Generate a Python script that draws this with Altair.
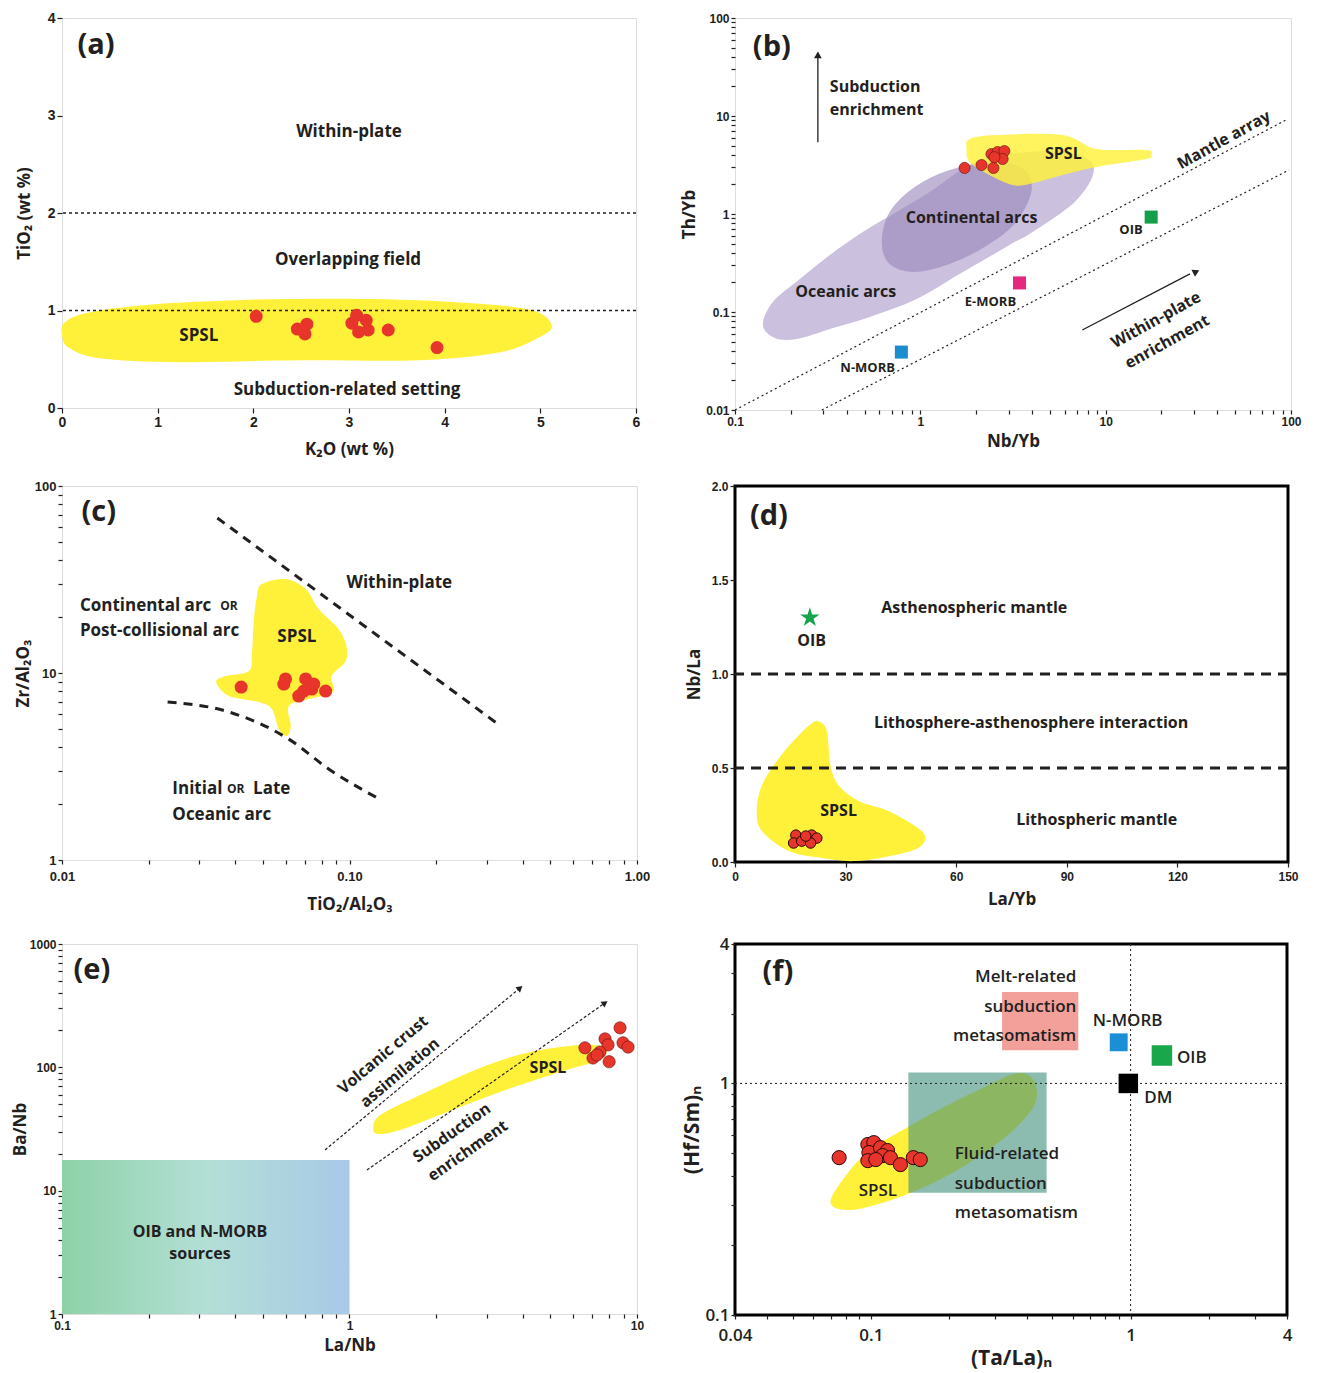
import altair as alt
import pandas as pd

FONT = "Open Sans"
TFONT = "Liberation Sans"
INK = "#231f20"
RED = "#e8352b"
YEL = "#fff13a"

# ---------------- (a) TiO2 vs K2O ----------------
a_xticks = [0, 1, 2, 3, 4, 5, 6]
a_yticks = [0, 1, 2, 3, 4]
a_spsl_x = [0.03, 0.28, 0.91, 1.95, 3.00, 4.04, 4.88, 5.12, 4.98, 4.57, 3.73, 2.48, 1.22, 0.39, 0.07, 0.0]
a_spsl_y = [0.88, 0.98, 1.06, 1.11, 1.12, 1.09, 1.01, 0.85, 0.72, 0.57, 0.49, 0.49, 0.47, 0.51, 0.62, 0.75]
a_pts_x = [2.03, 2.46, 2.56, 2.54, 3.08, 3.03, 3.18, 3.10, 3.20, 3.41, 3.92]
a_pts_y = [0.94, 0.81, 0.86, 0.76, 0.95, 0.87, 0.90, 0.78, 0.80, 0.80, 0.62]
a_bounds = [1, 2]
a_lab_t = ["Within-plate", "Overlapping field", "SPSL", "Subduction-related setting"]
a_lab_x = [3.0, 2.99, 1.43, 2.98]
a_lab_y = [2.83, 1.52, 0.74, 0.18]

# ---------------- (b) Th/Yb vs Nb/Yb ----------------
b_xlab = [0.1, 1, 10, 100]
b_xlab_t = ["0.1", "1", "10", "100"]
b_ylab = [0.01, 0.1, 1, 10, 100]
b_ylab_t = ["0.01", "0.1", "1", "10", "100"]
b_oc_x = [0.1415, 0.160, 0.224, 0.325, 0.489, 0.745, 1.122, 1.690, 2.36, 3.88, 6.37, 8.36, 8.47, 7.21, 5.84, 3.88, 3.03, 1.628, 0.955, 0.533, 0.325, 0.216, 0.164]
b_oc_y = [0.0737, 0.1265, 0.217, 0.382, 0.655, 1.047, 1.676, 2.88, 3.82, 4.29, 4.29, 3.39, 2.39, 1.49, 1.047, 0.625, 0.483, 0.244, 0.1358, 0.089, 0.0671, 0.053, 0.0543]
b_ca_x = [0.619, 0.683, 0.932, 1.438, 2.51, 3.65, 3.97, 3.22, 2.22, 1.438, 0.932, 0.683]
b_ca_y = [0.518, 1.047, 1.886, 2.81, 3.39, 2.81, 1.676, 0.791, 0.461, 0.309, 0.256, 0.309]
b_sp_x = [1.776, 1.843, 2.58, 5.84, 8.90, 16.5, 17.6, 16.5, 8.90, 5.84, 3.88, 3.14, 2.36, 1.843]
b_sp_y = [4.61, 5.82, 6.40, 6.40, 4.61, 4.50, 4.00, 3.64, 3.02, 2.50, 2.02, 1.98, 2.50, 3.39]
b_pts_x = [1.733, 2.14, 2.48, 2.42, 2.61, 2.84, 2.78, 2.51]
b_pts_y = [2.95, 3.16, 2.95, 4.09, 4.29, 4.39, 3.64, 3.80]
b_mantle_x = [0.1, 93.9, 0.294, 97.5]
b_mantle_y = [0.01, 9.1, 0.01, 2.81]
b_mantle_g = ["upper", "upper", "lower", "lower"]
b_ref_t = ["N-MORB", "E-MORB", "OIB"]
b_ref_x = [0.79, 3.43, 17.6]
b_ref_y = [0.039, 0.198, 0.93]
b_ref_c = ["#1b8ccd", "#e5297f", "#14a04b"]
b_arrow_x = [0.28, 0.28, 7.48, 28.5]
b_arrow_y = [5.4, 40, 0.0655, 0.245]
b_arrow_g = ["sub", "sub", "wp", "wp"]
b_lab_t = ["Continental arcs", "Oceanic arcs", "SPSL"]
b_lab_x = [1.89, 0.396, 5.91]
b_lab_y = [0.91, 0.16, 4.09]
b_small_t = ["OIB", "E-MORB", "N-MORB"]
b_small_x = [13.7, 2.39, 0.52]
b_small_y = [0.687, 0.126, 0.0268]
b_left_t = ["Subduction", "enrichment"]
b_left_x = [0.325, 0.325]
b_left_y = [19.8, 11.5]
b_rot_t = ["Mantle array", "Within-plate", "enrichment"]
b_rot_x = [43.5, 18.7, 21.5]
b_rot_y = [5.69, 0.0828, 0.0494]

# ---------------- (c) Zr/Al2O3 vs TiO2/Al2O3 ----------------
c_xlab = [0.01, 0.1, 1]
c_xlab_t = ["0.01", "0.10", "1.00"]
c_ylab = [1, 10, 100]
c_ylab_t = ["1", "10", "100"]
c_sp_x = [0.0496, 0.060, 0.0704, 0.0781, 0.0916, 0.0976, 0.0968, 0.0866, 0.0876, 0.0721, 0.0615, 0.0625, 0.0605, 0.0568, 0.0537, 0.0484, 0.0381, 0.0344, 0.0372, 0.0447, 0.0458, 0.0465, 0.0477]
c_sp_y = [29.9, 31.8, 28.1, 22.0, 17.2, 13.9, 11.5, 9.64, 7.91, 7.26, 6.66, 5.21, 4.60, 5.02, 6.42, 7.0, 7.53, 8.95, 9.64, 10.25, 12.9, 19.4, 25.8]
c_pts_x = [0.042, 0.0591, 0.0599, 0.0704, 0.0693, 0.0739, 0.0666, 0.0826, 0.0751]
c_pts_y = [8.41, 8.73, 9.29, 9.29, 8.01, 8.21, 7.53, 8.01, 8.73]
c_up_x = [0.0347, 0.325]
c_up_y = [67.4, 5.4]
c_low_x = [0.0233, 0.0381, 0.0615, 0.0846, 0.129]
c_low_y = [7.0, 6.19, 4.43, 3.07, 2.09]
c_lab_t = ["Within-plate", "SPSL"]
c_lab_x = [0.149, 0.0656]
c_lab_y = [30.3, 15.6]
c_left_t = ["Continental arc", "Post-collisional arc", "Initial", "Late", "Oceanic arc"]
c_left_x = [0.01154, 0.01154, 0.0242, 0.0462, 0.0242]
c_left_y = [22.8, 16.8, 2.40, 2.40, 1.74]
c_or_x = [0.0355, 0.0375]
c_or_y = [22.8, 2.40]

# ---------------- (d) Nb/La vs La/Yb ----------------
d_xticks = [0, 30, 60, 90, 120, 150]
d_yticks = [0, 0.5, 1.0, 1.5, 2.0]
d_sp_x = [22.7, 24.9, 25.9, 28.1, 33.5, 41.6, 49.7, 51.6, 49.7, 43.5, 32.7, 23.5, 14.6, 7.3, 5.9, 7.3, 11.9, 17.3, 20.8]
d_sp_y = [0.748, 0.700, 0.515, 0.408, 0.324, 0.271, 0.180, 0.127, 0.074, 0.037, 0.005, 0.021, 0.058, 0.164, 0.271, 0.408, 0.552, 0.674, 0.737]
d_pts_x = [16.5, 15.9, 18.1, 20.8, 22.2, 20.5, 19.2]
d_pts_y = [0.143, 0.101, 0.111, 0.143, 0.127, 0.101, 0.138]
d_bounds = [0.5, 1.0]
d_oib_x = [20.3]
d_oib_y = [1.30]
d_lab_t = ["Asthenospheric mantle", "OIB", "Lithosphere-asthenosphere interaction", "SPSL", "Lithospheric mantle"]
d_lab_x = [64.9, 20.8, 80.3, 28.1, 98.1]
d_lab_y = [1.353, 1.178, 0.737, 0.27, 0.223]

# ---------------- (e) Ba/Nb vs La/Nb ----------------
e_xlab = [0.1, 1, 10]
e_xlab_t = ["0.1", "1", "10"]
e_ylab = [1, 10, 100, 1000]
e_ylab_t = ["1", "10", "100", "1000"]
e_box_x = [0.1]
e_box_x2 = [1.0]
e_box_y = [1.0]
e_box_y2 = [17.7]
e_sp_x = [1.21, 1.28, 1.76, 2.84, 4.25, 6.34, 7.74, 7.43, 5.40, 3.34, 2.06, 1.50, 1.26]
e_sp_y = [32.3, 41.1, 59.7, 98.9, 133, 152, 144, 115, 91.8, 63.2, 41.1, 31.1, 28.8]
e_pts_x = [6.59, 7.74, 7.93, 7.43, 7.03, 8.73, 8.94, 9.31, 8.0, 7.26]
e_pts_y = [144, 170, 152, 133, 119, 209, 158, 146, 111, 126]
e_arrow_x = [0.822, 3.92, 1.15, 7.74]
e_arrow_y = [21.4, 440, 14.7, 333]
e_arrow_g = ["vc", "vc", "se", "se"]
e_lab_t = ["SPSL", "OIB and N-MORB", "sources"]
e_lab_x = [4.90, 0.302, 0.302]
e_lab_y = [98.9, 4.62, 3.07]
e_rot1_t = ["Volcanic crust", "assimilation"]
e_rot1_x = [1.308, 1.498]
e_rot1_y = [126, 90.1]
e_rot2_t = ["Subduction", "enrichment"]
e_rot2_x = [2.273, 2.58]
e_rot2_y = [29.4, 21.0]

# ---------------- (f) (Hf/Sm)N vs (Ta/La)N ----------------
f_xlab = [0.03, 0.1, 1, 4]
f_xlab_t = ["0.04", "0.1", "1", "4"]
f_ylab = [0.1, 1, 4]
f_ylab_t = ["0.1", "1", "4"]
f_melt = dict(x=[0.32], x2=[0.629], y=[1.39], y2=[2.48])
f_fluid = dict(x=[0.1395], x2=[0.475], y=[0.337], y2=[1.116])
f_sp_x = [0.070, 0.0861, 0.1335, 0.207, 0.321, 0.417, 0.435, 0.406, 0.350, 0.262, 0.196, 0.1335, 0.1, 0.0818]
f_sp_y = [0.305, 0.285, 0.327, 0.412, 0.573, 0.772, 0.942, 1.083, 1.094, 0.942, 0.803, 0.632, 0.518, 0.412]
f_pts_x = [0.0755, 0.0974, 0.1027, 0.0983, 0.0974, 0.109, 0.116, 0.111, 0.1045, 0.119, 0.130, 0.1457, 0.155]
f_pts_y = [0.478, 0.545, 0.555, 0.503, 0.464, 0.528, 0.513, 0.488, 0.469, 0.478, 0.446, 0.478, 0.469]
f_ref_t = ["N-MORB", "OIB", "DM"]
f_ref_x = [0.90, 1.32, 0.98]
f_ref_y = [1.505, 1.32, 1.0]
f_ref_c = ["#1a8fd6", "#1aa64b", "#000000"]
f_ref_s = [320, 420, 380]
f_right_t = ["Melt-related", "subduction", "metasomatism"]
f_right_x = [0.618, 0.618, 0.618]
f_right_y = [2.88, 2.13, 1.60]
f_left_t = ["Fluid-related", "subduction", "metasomatism"]
f_left_x = [0.2105, 0.2105, 0.2105]
f_left_y = [0.498, 0.369, 0.276]
f_lab_t = ["N-MORB", "OIB", "DM", "SPSL"]
f_lab_x = [0.974, 1.72, 1.278, 0.1064]
f_lab_y = [1.855, 1.283, 0.861, 0.344]

letters_t = ["(a)", "(b)", "(c)", "(d)", "(e)", "(f)"]
letters_x = [0.355, 0.158, 0.01343, 9.2, 0.127, 0.0439]
letters_y = [3.72, 50.6, 72.6, 1.84, 617, 3.02]

STAR = "M0,-1L0.2245,-0.309L0.951,-0.309L0.363,0.118L0.588,0.809L0,0.382L-0.588,0.809L-0.363,0.118L-0.951,-0.309L-0.2245,-0.309Z"


# ---------------- helpers ----------------
def log_values(lo, hi):
    out = []
    for e in range(-3, 4):
        for m in range(1, 10):
            v = float(f"{m}e{e}")
            if lo - 1e-12 <= v <= hi + 1e-12:
                out.append(v)
    return out


def lab_expr(vals, texts):
    expr = "''"
    for v, t in reversed(list(zip(vals, texts))):
        expr = f"(abs(datum.value - {v}) < {v}*1e-6 + 1e-12) ? '{t}' : ({expr})"
    return expr


def axis(title, values, expr=None, fmt=None, lsize=13, lweight="bold", lfont=TFONT,
         tsize=17, tpad=6, lpad=2, **kw):
    d = dict(title=title, values=values, grid=False, domain=False, tickSize=5, tickColor=INK,
             tickWidth=1.2, labelFont=lfont, labelFontSize=lsize, labelFontWeight=lweight,
             labelColor=INK, labelPadding=lpad, labelFlush=False, labelOverlap=False,
             titleFont=FONT, titleFontSize=tsize, titleFontWeight="bold", titleColor=INK,
             titlePadding=tpad)
    if expr is not None:
        d["labelExpr"] = expr
    if fmt is not None:
        d["format"] = fmt
    d.update(kw)
    return alt.Axis(**d)


def poly(xs, ys, X, Y, color, op=1.0):
    d = pd.DataFrame({"x": xs, "y": ys, "i": list(range(len(xs)))})
    return alt.Chart(d).mark_line(interpolate="cardinal-closed", fill=color, fillOpacity=op,
                                  strokeOpacity=0, strokeWidth=0).encode(x=X, y=Y, order="i:Q")


def rules(vals, ch, field, dash, width=1.3):
    d = pd.DataFrame({field: vals})
    return alt.Chart(d).mark_rule(color=INK, strokeDash=dash, strokeWidth=width).encode(**{field: ch})


def segs(xs, ys, gs, X, Y, dash=None, width=1.2, interp="linear"):
    d = pd.DataFrame({"x": xs, "y": ys, "g": gs, "i": list(range(len(xs)))})
    kw = dict(color=INK, strokeWidth=width, interpolate=interp)
    if dash:
        kw["strokeDash"] = dash
    return alt.Chart(d).mark_line(**kw).encode(x=X, y=Y, detail="g:N", order="i:Q")


def points(xs, ys, X, Y, size, stroke=None, sw=0.8):
    kw = dict(size=size, color=RED, opacity=1)
    if stroke:
        kw.update(stroke=stroke, strokeWidth=sw)
    return alt.Chart(pd.DataFrame({"x": xs, "y": ys})).mark_circle(**kw).encode(x=X, y=Y)


def squares(xs, ys, cols, X, Y, sizes):
    d = pd.DataFrame({"x": xs, "y": ys, "c": cols, "s": sizes})
    return alt.Chart(d).mark_square(opacity=1).encode(
        x=X, y=Y, color=alt.Color("c:N", scale=None), size=alt.Size("s:Q", scale=None))


def heads(xs, ys, X, Y, shape, angle=0, size=70):
    kw = dict(shape=shape, filled=True, size=size, color=INK, opacity=1)
    if angle:
        kw["angle"] = angle
    return alt.Chart(pd.DataFrame({"x": xs, "y": ys})).mark_point(**kw).encode(x=X, y=Y)


def texts(t, xs, ys, X, Y, size=16, align="center", angle=0, weight="bold", font=FONT, color=INK):
    kw = dict(size=size, align=align, font=font, fontWeight=weight, color=color, baseline="middle")
    if angle:
        kw["angle"] = angle
    d = pd.DataFrame({"x": xs, "y": ys, "t": t})
    return alt.Chart(d).mark_text(**kw).encode(x=X, y=Y, text="t:N")


def letter(i, X, Y):
    return texts([letters_t[i]], [letters_x[i]], [letters_y[i]], X, Y, size=29, weight="bold")


# ---------------- panel (a) ----------------
Xa = alt.X("x:Q", scale=alt.Scale(domain=[0, 6], nice=False, zero=False),
           axis=axis("K₂O (wt %)", a_xticks, fmt="d", lsize=14, tpad=12))
Ya = alt.Y("y:Q", scale=alt.Scale(domain=[0, 4], nice=False, zero=False),
           axis=axis("TiO₂ (wt %)", a_yticks, fmt="d", lsize=14, tpad=14))
pa = alt.layer(
    poly(a_spsl_x, a_spsl_y, Xa, Ya, YEL),
    rules(a_bounds, Ya, "y", [3, 3]),
    points(a_pts_x, a_pts_y, Xa, Ya, 170),
    texts(a_lab_t, a_lab_x, a_lab_y, Xa, Ya, size=17),
    letter(0, Xa, Ya),
).properties(width=574, height=390)

# ---------------- panel (b) ----------------
bxv = log_values(0.1, 100)
byv = log_values(0.01, 100)
Xb = alt.X("x:Q", scale=alt.Scale(type="log", domain=[0.1, 100], nice=False),
           axis=axis("Nb/Yb", bxv, expr=lab_expr(b_xlab, b_xlab_t), lsize=12, tpad=6, tickSize=4))
Yb = alt.Y("y:Q", scale=alt.Scale(type="log", domain=[0.01, 100], nice=False),
           axis=axis("Th/Yb", byv, expr=lab_expr(b_ylab, b_ylab_t), lsize=12, tpad=7, tickSize=4))
pb = alt.layer(
    poly(b_oc_x, b_oc_y, Xb, Yb, "#cbc0dd"),
    poly(b_ca_x, b_ca_y, Xb, Yb, "#9783bb", 0.6),
    poly(b_sp_x, b_sp_y, Xb, Yb, YEL, 0.82),
    segs(b_mantle_x, b_mantle_y, b_mantle_g, Xb, Yb, dash=[2, 3], width=1.2),
    segs(b_arrow_x, b_arrow_y, b_arrow_g, Xb, Yb, width=1.3),
    heads([0.28], [42], Xb, Yb, "triangle-up", size=60),
    heads([30.8], [0.258], Xb, Yb, "triangle-right", angle=333, size=60),
    squares(b_ref_x, b_ref_y, b_ref_c, Xb, Yb, [170, 170, 170]),
    points(b_pts_x, b_pts_y, Xb, Yb, 125, stroke="#5a1410", sw=0.6),
    texts(b_lab_t, b_lab_x, b_lab_y, Xb, Yb, size=16),
    texts(b_small_t, b_small_x, b_small_y, Xb, Yb, size=13),
    texts(b_left_t, b_left_x, b_left_y, Xb, Yb, size=16, align="left"),
    texts(b_rot_t, b_rot_x, b_rot_y, Xb, Yb, size=16, angle=331),
    letter(1, Xb, Yb),
).properties(width=556, height=392)

# ---------------- panel (c) ----------------
cxv = log_values(0.01, 1)
cyv = log_values(1, 100)
Xc = alt.X("x:Q", scale=alt.Scale(type="log", domain=[0.01, 1], nice=False),
           axis=axis("TiO₂/Al₂O₃", cxv, expr=lab_expr(c_xlab, c_xlab_t), lsize=13, tpad=13,
                     lpad=6, tickSize=4))
Yc = alt.Y("y:Q", scale=alt.Scale(type="log", domain=[1, 100], nice=False),
           axis=axis("Zr/Al₂O₃", cyv, expr=lab_expr(c_ylab, c_ylab_t), lsize=13, tpad=2, tickSize=4))
pc = alt.layer(
    poly(c_sp_x, c_sp_y, Xc, Yc, YEL),
    segs(c_up_x, c_up_y, ["u", "u"], Xc, Yc, dash=[9, 7], width=3),
    segs(c_low_x, c_low_y, ["l"] * 5, Xc, Yc, dash=[9, 7], width=3, interp="monotone"),
    points(c_pts_x, c_pts_y, Xc, Yc, 170),
    texts(c_lab_t, c_lab_x, c_lab_y, Xc, Yc, size=17),
    texts(c_left_t, c_left_x, c_left_y, Xc, Yc, size=17, align="left"),
    texts(["OR", "OR"], c_or_x, c_or_y, Xc, Yc, size=12, align="left"),
    letter(2, Xc, Yc),
).properties(width=575, height=374)

# ---------------- panel (d) ----------------
Xd = alt.X("x:Q", scale=alt.Scale(domain=[0, 150], nice=False, zero=False),
           axis=axis("La/Yb", d_xticks, fmt="d", lsize=12, tpad=9, lpad=4))
Yd = alt.Y("y:Q", scale=alt.Scale(domain=[0, 2], nice=False, zero=False),
           axis=axis("Nb/La", d_yticks, fmt=".1f", lsize=12, tpad=8))
pdd = alt.layer(
    poly(d_sp_x, d_sp_y, Xd, Yd, YEL),
    rules(d_bounds, Yd, "y", [10, 7], width=3),
    points(d_pts_x, d_pts_y, Xd, Yd, 110, stroke="#2a0a08", sw=1.0),
    alt.Chart(pd.DataFrame({"x": d_oib_x, "y": d_oib_y})).mark_point(
        shape=STAR, filled=True, size=420, color="#17a34a", opacity=1).encode(x=Xd, y=Yd),
    texts(d_lab_t, d_lab_x, d_lab_y, Xd, Yd, size=16),
    letter(3, Xd, Yd),
).properties(width=553, height=376, view=alt.ViewBackground(stroke="#000000", strokeWidth=3))

# ---------------- panel (e) ----------------
exv = log_values(0.1, 10)
eyv = log_values(1, 1000)
Xe = alt.X("x:Q", scale=alt.Scale(type="log", domain=[0.1, 10], nice=False),
           axis=axis("La/Nb", exv, expr=lab_expr(e_xlab, e_xlab_t), lsize=12, tpad=6, tickSize=4))
Ye = alt.Y("y:Q", scale=alt.Scale(type="log", domain=[1, 1000], nice=False),
           axis=axis("Ba/Nb", eyv, expr=lab_expr(e_ylab, e_ylab_t), lsize=12, tpad=0, tickSize=4))
grad = {"gradient": "linear", "x1": 0, "x2": 1, "y1": 0, "y2": 0,
        "stops": [{"offset": 0, "color": "#8ed1a7"}, {"offset": 0.5, "color": "#b3dfd6"},
                  {"offset": 1, "color": "#a8c9e8"}]}
pe = alt.layer(
    alt.Chart(pd.DataFrame({"x": e_box_x, "x2": e_box_x2, "y": e_box_y, "y2": e_box_y2})).mark_rect(
        color=grad).encode(x=Xe, x2="x2:Q", y=Ye, y2="y2:Q"),
    poly(e_sp_x, e_sp_y, Xe, Ye, YEL),
    segs(e_arrow_x, e_arrow_y, e_arrow_g, Xe, Ye, dash=[3, 2], width=1.2),
    heads([3.92], [440], Xe, Ye, "triangle-right", angle=320, size=50),
    heads([7.74], [333], Xe, Ye, "triangle-right", angle=325, size=50),
    points(e_pts_x, e_pts_y, Xe, Ye, 150, stroke="#5a1410", sw=0.6),
    texts(e_lab_t, e_lab_x, e_lab_y, Xe, Ye, size=16),
    texts(e_rot1_t, e_rot1_x, e_rot1_y, Xe, Ye, size=16, angle=320),
    texts(e_rot2_t, e_rot2_x, e_rot2_y, Xe, Ye, size=16, angle=325),
    letter(4, Xe, Ye),
).properties(width=575, height=370)

# ---------------- panel (f) ----------------
fxv = log_values(0.03, 4)
fyv = log_values(0.1, 4)
Xf = alt.X("x:Q", scale=alt.Scale(type="log", domain=[0.03, 4], nice=False),
           axis=axis("(Ta/La)ₙ", fxv, expr=lab_expr(f_xlab, f_xlab_t), lsize=17, lfont=FONT,
                     lweight=600, tsize=21, tpad=4, lpad=8, tickSize=4))
Yf = alt.Y("y:Q", scale=alt.Scale(type="log", domain=[0.1, 4], nice=False),
           axis=axis("(Hf/Sm)ₙ", fyv, expr=lab_expr(f_ylab, f_ylab_t), lsize=17, lfont=FONT,
                     lweight=600, tsize=21, tpad=2, tickSize=4))
pf = alt.layer(
    alt.Chart(pd.DataFrame(f_melt)).mark_rect(color="#f3a09b", opacity=1).encode(
        x=Xf, x2="x2:Q", y=Yf, y2="y2:Q"),
    poly(f_sp_x, f_sp_y, Xf, Yf, YEL),
    alt.Chart(pd.DataFrame(f_fluid)).mark_rect(color="#3f8f7c", opacity=0.6).encode(
        x=Xf, x2="x2:Q", y=Yf, y2="y2:Q"),
    rules([1], Xf, "x", [2, 3], width=1),
    rules([1], Yf, "y", [2, 3], width=1),
    squares(f_ref_x, f_ref_y, f_ref_c, Xf, Yf, f_ref_s),
    points(f_pts_x, f_pts_y, Xf, Yf, 200, stroke="#2a0a08", sw=1.0),
    texts(f_right_t, f_right_x, f_right_y, Xf, Yf, size=17, align="right", weight=600),
    texts(f_left_t, f_left_x, f_left_y, Xf, Yf, size=17, align="left", weight=600),
    texts(f_lab_t, f_lab_x, f_lab_y, Xf, Yf, size=17, weight=600),
    letter(5, Xf, Yf),
).properties(width=552, height=371, view=alt.ViewBackground(stroke="#000000", strokeWidth=3))

chart = alt.concat(pa, pb, pc, pdd, pe, pf, columns=2, spacing={"row": 20, "column": 29},
                   align="each").resolve_scale(x="independent", y="independent").properties(
    padding={"left": 2, "top": 2, "right": 2, "bottom": 2}
).configure_view(stroke=INK, strokeWidth=1.5).configure(background="white")

chart.save("out.html", embed_options={"renderer": "svg", "actions": False})
